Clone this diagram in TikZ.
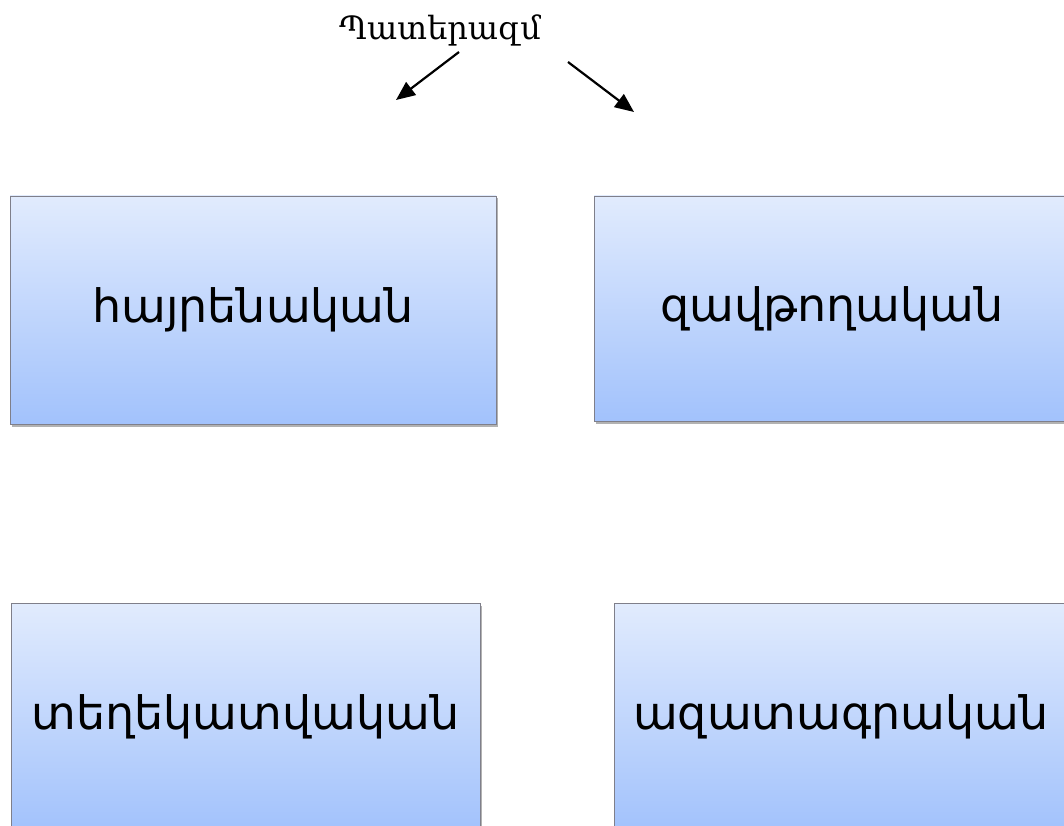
\documentclass[tikz,border=0pt]{standalone}
\usepackage{fontspec}
\newfontfamily\armsans{DejaVu Sans}
\newfontfamily\armserif{DejaVu Serif}
\usetikzlibrary{shadows,arrows.meta}
\definecolor{boxtop}{HTML}{E1EBFD}
\definecolor{boxbot}{HTML}{A2C2FC}
\definecolor{boxline}{HTML}{7F7F8A}
\tikzset{
  catbox/.style={draw=boxline, line width=0.8pt, top color=boxtop, bottom color=boxbot,
    minimum width=#1, inner sep=0pt, font=\armsans\fontsize{46}{52}\selectfont,
    drop shadow={shadow xshift=1.5pt, shadow yshift=-2.5pt, fill=black, opacity=0.3}},
  arr/.style={-{Triangle[length=19pt,width=16pt]}, line width=2.2pt}
}
\begin{document}
\begin{tikzpicture}[x=1pt,y=-1pt]
\useasboundingbox (0,0) rectangle (1064,826);
\clip (0,0) rectangle (1064,826);
\node[font=\armserif\fontsize{32}{36}\selectfont] (title) at (440,30) {Պատերազմ};
\node[catbox=486pt, minimum height=228pt] (b1) at (253,310) {հայրենական};
\node[catbox=476pt, minimum height=225pt] (b2) at (832,308.5) {զավթողական};
\node[catbox=469pt, minimum height=228pt] (b3) at (245.5,717) {տեղեկատվական};
\node[catbox=454pt, minimum height=228pt] (b4) at (841,717) {ազատագրական};
\coordinate (a1s) at (459,52);
\coordinate (a1e) at (396,100);
\coordinate (a2s) at (568,62);
\coordinate (a2e) at (634,112);
\draw[arr] (a1s) -- (a1e);
\draw[arr] (a2s) -- (a2e);
\end{tikzpicture}
\end{document}
